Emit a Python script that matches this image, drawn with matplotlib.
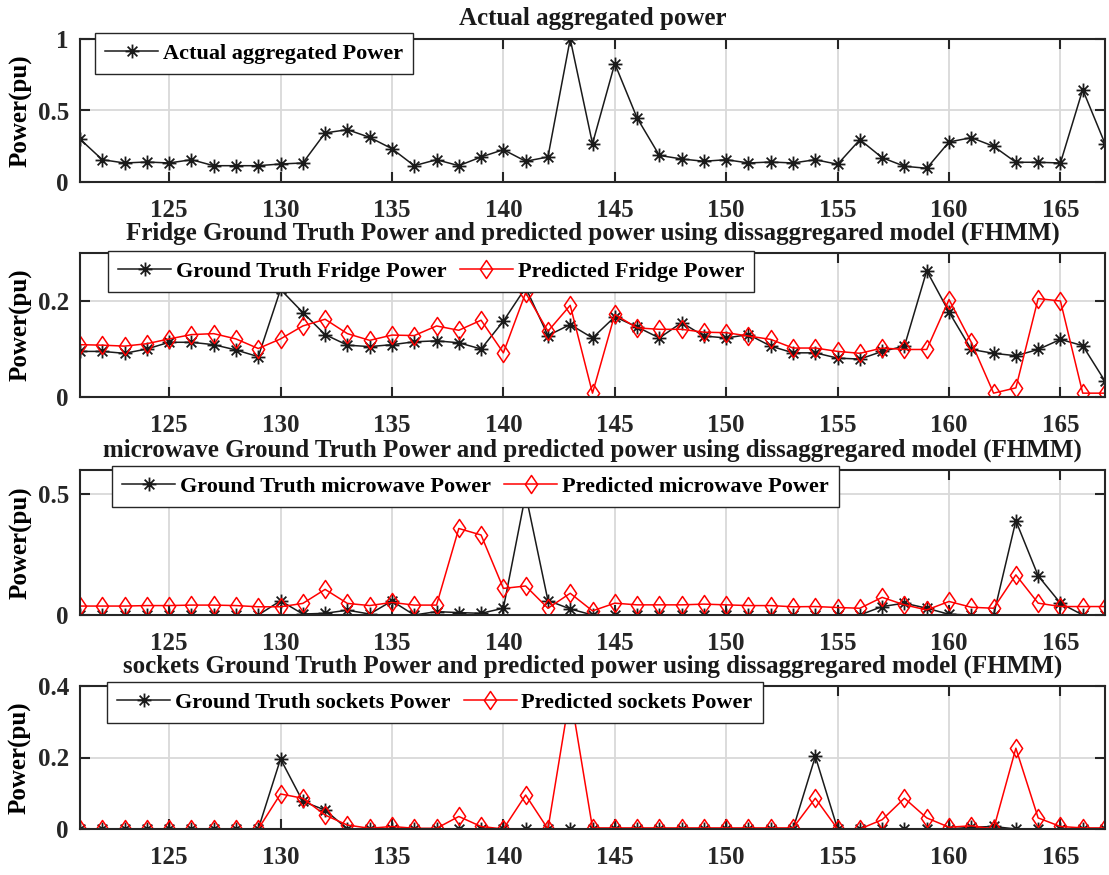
import matplotlib
matplotlib.use("Agg")
import matplotlib.pyplot as plt
from matplotlib.path import Path

plt.rcParams['font.family'] = ['Liberation Serif', 'DejaVu Serif']
plt.rcParams['font.weight'] = 'bold'

# time index
x = list(range(121, 168))

aggregate = [0.30, 0.156, 0.133, 0.14, 0.133, 0.156, 0.114, 0.114, 0.114, 0.126,
             0.133, 0.343, 0.366, 0.312, 0.233, 0.114, 0.156, 0.114, 0.175, 0.226,
             0.145, 0.175, 1.0, 0.268, 0.828, 0.448, 0.186, 0.161, 0.145, 0.156,
             0.133, 0.14, 0.133, 0.156, 0.124, 0.296, 0.17, 0.11, 0.096, 0.28,
             0.31, 0.25, 0.138, 0.138, 0.133, 0.646, 0.268]

fridge_true = [0.095, 0.095, 0.091, 0.100, 0.114, 0.114, 0.109, 0.098, 0.084, 0.224,
               0.176, 0.130, 0.108, 0.105, 0.109, 0.115, 0.117, 0.113, 0.100, 0.158,
               0.228, 0.128, 0.151, 0.123, 0.167, 0.146, 0.123, 0.155, 0.127, 0.123,
               0.130, 0.106, 0.092, 0.092, 0.081, 0.079, 0.095, 0.106, 0.263, 0.177,
               0.099, 0.091, 0.086, 0.099, 0.120, 0.107, 0.033]
fridge_pred = [0.109, 0.108, 0.106, 0.111, 0.121, 0.130, 0.132, 0.121, 0.101, 0.121,
               0.148, 0.162, 0.132, 0.118, 0.129, 0.128, 0.148, 0.139, 0.160, 0.092,
               0.217, 0.137, 0.191, 0.008, 0.172, 0.144, 0.141, 0.141, 0.135, 0.134,
               0.127, 0.120, 0.102, 0.102, 0.095, 0.091, 0.102, 0.099, 0.099, 0.203,
               0.114, 0.008, 0.019, 0.205, 0.200, 0.008, 0.008]

micro_true = [0, 0, 0, 0, 0, 0, 0, 0, 0, 0.059,
              0.004, 0.007, 0.02, 0.004, 0.058, 0, 0.014, 0.01, 0.007, 0.028,
              0.50, 0.060, 0.025, 0, 0, 0, 0, 0, 0, 0,
              0, 0, 0, 0, 0, 0, 0.035, 0.049, 0.028, 0.003,
              0, 0, 0.39, 0.162, 0.049, 0, 0]
micro_pred = [0.037, 0.037, 0.037, 0.039, 0.039, 0.041, 0.041, 0.039, 0.034, 0.034,
              0.048, 0.106, 0.048, 0.039, 0.052, 0.041, 0.041, 0.358, 0.331, 0.110,
              0.120, 0.028, 0.090, 0.017, 0.049, 0.042, 0.042, 0.042, 0.045, 0.042,
              0.039, 0.039, 0.034, 0.035, 0.031, 0.028, 0.073, 0.042, 0.021, 0.056,
              0.032, 0.028, 0.166, 0.049, 0.035, 0.035, 0.035]

sock_true = [0, 0, 0, 0, 0, 0, 0, 0, 0, 0.196,
             0.077, 0.053, 0, 0, 0, 0, 0, 0, 0, 0,
             0, 0, 0, 0, 0, 0, 0, 0, 0, 0,
             0, 0, 0, 0.203, 0, 0, 0, 0, 0, 0,
             0.005, 0.007, 0, 0, 0, 0, 0]
sock_pred = [0, 0, 0, 0, 0, 0, 0, 0, 0, 0.098,
             0.086, 0.039, 0.011, 0.002, 0.007, 0.002, 0.002, 0.035, 0.007, 0.0,
             0.095, 0.0, 0.38, 0.003, 0.003, 0.003, 0.003, 0.003, 0.003, 0.003,
             0.003, 0.003, 0.003, 0.086, 0.0, 0.0, 0.026, 0.086, 0.031, 0.005,
             0.009, 0.0, 0.226, 0.031, 0.007, 0.003, 0.003]

titles = ["Actual aggregated power",
          "Fridge Ground Truth Power and predicted power using dissaggregared model (FHMM)",
          "microwave Ground Truth Power and predicted power using dissaggregared model (FHMM)",
          "sockets Ground Truth Power and predicted power using dissaggregared model (FHMM)"]
ylims = [(0, 1), (0, 0.3), (0, 0.6), (0, 0.4)]
yticks = [[0, 0.5, 1], [0, 0.2], [0, 0.5], [0, 0.2, 0.4]]
yticklabels = [["0", "0.5", "1"], ["0", "0.2"], ["0", "0.5"], ["0", "0.2", "0.4"]]
xticks = [125, 130, 135, 140, 145, 150, 155, 160, 165]

# matlab-ish markers
star = Path([(-1, 0), (1, 0), (0, -1), (0, 1), (-0.7, -0.7), (0.7, 0.7), (-0.7, 0.7), (0.7, -0.7)],
            [Path.MOVETO, Path.LINETO] * 4)
diamond = Path([(0, 1), (0.68, 0), (0, -1), (-0.68, 0), (0, 1)],
               [Path.MOVETO, Path.LINETO, Path.LINETO, Path.LINETO, Path.CLOSEPOLY])

W, H = 1109, 875
fig = plt.figure(figsize=(W / 100, H / 100), dpi=100)

# axes boxes in pixels: (top, bottom)
boxes = [(39, 182), (253, 397), (470, 615), (686, 829)]
legpos = [(95, 33), (108, 251), (112, 466), (107, 682)]
left_px, right_px = 80, 1105

series = [
    [(aggregate, "Actual aggregated Power", "k")],
    [(fridge_true, "Ground Truth Fridge Power", "k"), (fridge_pred, "Predicted Fridge Power", "r")],
    [(micro_true, "Ground Truth microwave Power", "k"), (micro_pred, "Predicted microwave Power", "r")],
    [(sock_true, "Ground Truth sockets Power", "k"), (sock_pred, "Predicted sockets Power", "r")],
]

for i in range(4):
    top, bot = boxes[i]
    ax = fig.add_axes([left_px / W, 1 - bot / H, (right_px - left_px) / W, (bot - top) / H])
    for vals, lab, col in series[i]:
        if col == "k":
            ax.plot(x, vals, color="#1a1a1a", lw=1.1, marker=star, ms=10, mew=1.3,
                    mfc="none", label=lab)
        else:
            ax.plot(x, vals, color="#ff0000", lw=1.1, marker=diamond, ms=13, mew=1.1,
                    mfc="none", label=lab)
    ax.set_xlim(121, 167)
    ax.set_ylim(*ylims[i])
    ax.set_xticks(xticks)
    ax.set_yticks(yticks[i])
    ax.set_yticklabels(yticklabels[i])
    ax.grid(True, color="#d9d9d9", lw=1.3)
    ax.set_axisbelow(True)
    ax.tick_params(direction="in", length=7, width=1.5, top=True, right=True,
                   labelsize=18, colors="#262626")
    ax.tick_params(axis="x", pad=12)
    ax.tick_params(axis="y", pad=8)
    for s in ax.spines.values():
        s.set_linewidth(1.5)
        s.set_color("#262626")
    ax.set_ylabel("Power(pu)", fontsize=18, fontweight="bold", labelpad=4)
    ax.annotate(titles[i], xy=(0.5, 1), xycoords="axes fraction", xytext=(0, 10),
                textcoords="offset points", ha="center", va="baseline",
                fontsize=18, fontweight="bold", color="#1a1a1a")
    lx, ly = legpos[i]
    leg = ax.legend(loc="upper left", bbox_to_anchor=(lx / W, 1 - ly / H),
                    bbox_transform=fig.transFigure, ncol=2, fontsize=16,
                    frameon=True, fancybox=False, framealpha=1, edgecolor="#262626",
                    borderaxespad=0, numpoints=1, handlelength=2.4,
                    handletextpad=0.2, columnspacing=0.6, borderpad=0.45)
    leg.get_frame().set_linewidth(1.0)

fig.savefig("out.png", dpi=100)
